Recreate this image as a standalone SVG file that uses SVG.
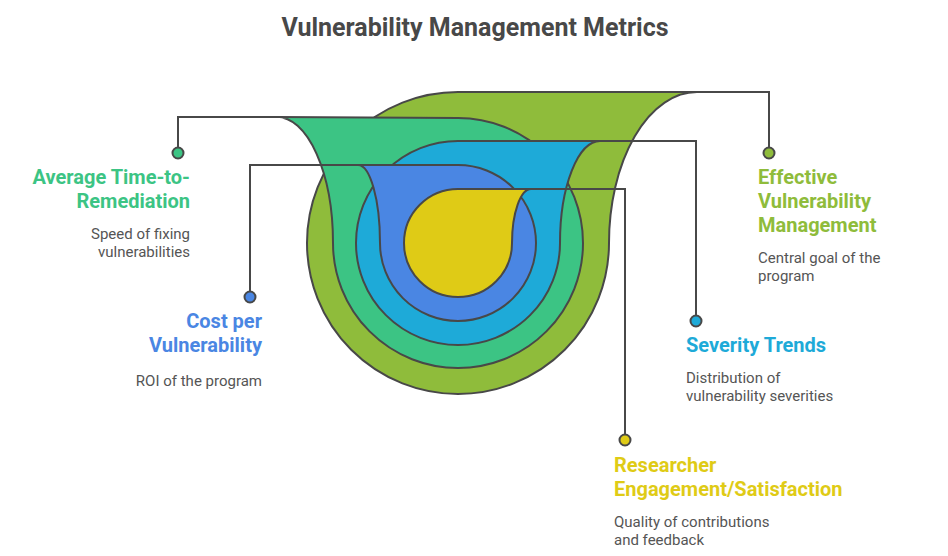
<svg xmlns="http://www.w3.org/2000/svg" width="948" height="556" viewBox="0 0 948 556">
<style>
.shape{stroke:#484848;stroke-width:2;stroke-linejoin:round}
.line{fill:none;stroke:#484848;stroke-width:2}
.dot{stroke:#484848;stroke-width:2}
.title{font-family:Roboto,"Liberation Sans",sans-serif;font-weight:bold;font-size:25px;fill:#484848}
.lbl{font-family:Roboto,"Liberation Sans",sans-serif;font-weight:bold;font-size:20px}
.desc{font-family:Roboto,"Liberation Sans",sans-serif;font-size:15px;fill:#555555}
.olive{fill:#8FBC3B}.green{fill:#3CC484}.cyan{fill:#1EAAD8}.blue{fill:#4A86E3}.yellow{fill:#DFCB16}
</style>
<rect width="948" height="556" fill="#ffffff"/>
<text class="title" x="475" y="36" text-anchor="middle">Vulnerability Management Metrics</text>

<g id="effective-vulnerability-management">
<path class="shape olive" d="M458 92 L697 92 A88 151 0 0 0 609 243 A151 151 0 0 1 307 243 A151 151 0 0 1 458 92 Z"/>
</g>
<g id="average-time-to-remediation">
<path class="shape green" d="M277 117 L458 118 A125 125 0 0 1 583 243 A125 125 0 0 1 333 243 A56 126 0 0 0 277 117 Z"/>
</g>
<g id="severity-trends">
<path class="shape cyan" d="M458 141 L600 141 A40 102 0 0 0 560 243 A102 102 0 0 1 356 243 A102 102 0 0 1 458 141 Z"/>
</g>
<g id="cost-per-vulnerability">
<path class="shape blue" d="M358 165 L458 165 A78 78 0 0 1 536 243 A78 78 0 0 1 380 243 A22 78 0 0 0 358 165 Z"/>
</g>
<g id="researcher-engagement">
<path class="shape yellow" d="M458 189 L531 189 A19 54 0 0 0 512 243 A54 54 0 0 1 404 243 A54 54 0 0 1 458 189 Z"/>
</g>

<g id="connectors">
<path class="line" d="M697 92 H769 V153"/>
<path class="line" d="M277 117 H178 V153"/>
<path class="line" d="M600 141 H696 V321"/>
<path class="line" d="M358 165 H250 V297"/>
<path class="line" d="M531 189 H625 V440"/>
<circle class="dot olive" cx="769" cy="153" r="5.5"/>
<circle class="dot green" cx="178" cy="153" r="5.5"/>
<circle class="dot cyan" cx="696" cy="321" r="5.5"/>
<circle class="dot blue" cx="250" cy="297" r="5.5"/>
<circle class="dot yellow" cx="625" cy="440" r="5.5"/>
</g>

<g id="label-average">
<text class="lbl" fill="#3CC484" text-anchor="end"><tspan x="190" y="184">Average Time-to-</tspan><tspan x="190" y="208">Remediation</tspan></text>
<text class="desc" text-anchor="end"><tspan x="190" y="239">Speed of fixing</tspan><tspan x="190" y="257">vulnerabilities</tspan></text>
</g>
<g id="label-cost">
<text class="lbl" fill="#4A86E3" text-anchor="end"><tspan x="262" y="328">Cost per</tspan><tspan x="262" y="352">Vulnerability</tspan></text>
<text class="desc" text-anchor="end"><tspan x="262" y="386">ROI of the program</tspan></text>
</g>
<g id="label-effective">
<text class="lbl" fill="#8FBC3B"><tspan x="758" y="184">Effective</tspan><tspan x="758" y="208">Vulnerability</tspan><tspan x="758" y="232">Management</tspan></text>
<text class="desc"><tspan x="758" y="263">Central goal of the</tspan><tspan x="758" y="281">program</tspan></text>
</g>
<g id="label-severity">
<text class="lbl" fill="#1EAAD8"><tspan x="686" y="352">Severity Trends</tspan></text>
<text class="desc"><tspan x="686" y="383">Distribution of</tspan><tspan x="686" y="401">vulnerability severities</tspan></text>
</g>
<g id="label-researcher">
<text class="lbl" fill="#DFCB16"><tspan x="614" y="472">Researcher</tspan><tspan x="614" y="496">Engagement/Satisfaction</tspan></text>
<text class="desc"><tspan x="614" y="527">Quality of contributions</tspan><tspan x="614" y="545">and feedback</tspan></text>
</g>
</svg>
